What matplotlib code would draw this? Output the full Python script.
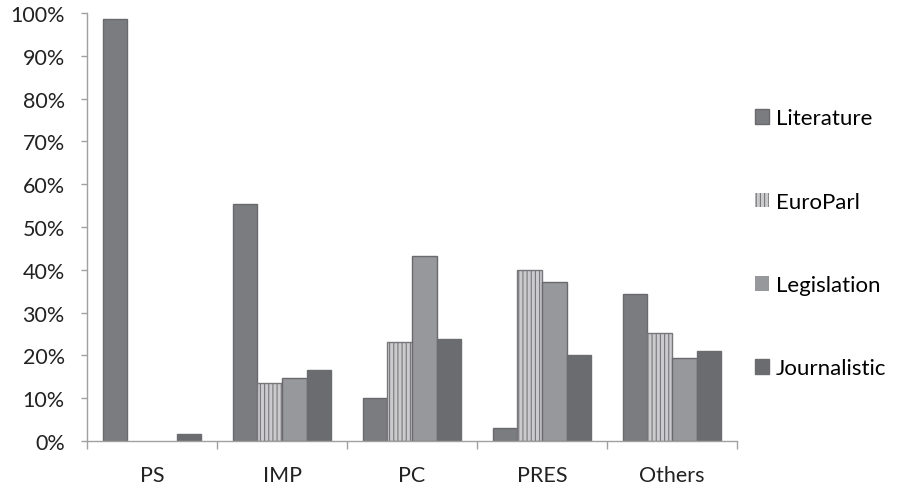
import matplotlib.pyplot as plt
import numpy as np

plt.rcParams['font.family'] = ['Lato', 'DejaVu Sans']
plt.rcParams['hatch.linewidth'] = 0.8

# Share of each category per corpus (%)
categories = ['PS', 'IMP', 'PC', 'PRES', 'Others']
literature = [98.6, 55.4, 10.0, 3.0, 34.3]
europarl = [0.0, 13.6, 23.1, 40.0, 25.2]
legislation = [0.0, 14.7, 43.2, 37.1, 19.4]
journalistic = [1.6, 16.6, 23.8, 20.1, 21.0]

fig = plt.figure(figsize=(8.98, 4.89), dpi=100)
ax = fig.add_axes([0.0969, 0.0961, 0.7238, 0.8753])


def lw(vals):
    # no outline on empty bars, so they don't darken the baseline
    return [1 if v > 0 else 0 for v in vals]


x = np.arange(len(categories))
w = 0.19
edge = '#6a6a6e'
ax.bar(x - 1.5 * w, literature, w, color='#7b7c80', edgecolor=edge, linewidth=lw(literature), label='Literature')
ax.bar(x - 0.5 * w, europarl, w, color='#cbcbcd', edgecolor='#77777b', linewidth=lw(europarl),
       hatch='||||', label='EuroParl')
ax.bar(x + 0.5 * w, legislation, w, color='#97989c', edgecolor=edge, linewidth=lw(legislation), label='Legislation')
ax.bar(x + 1.5 * w, journalistic, w, color='#6b6c70', edgecolor='#6b6c70', linewidth=lw(journalistic),
       label='Journalistic')

ax.set_xlim(-0.5, len(categories) - 0.5)
ax.set_ylim(0, 100)
ax.set_yticks(np.arange(0, 101, 10))
ax.set_yticklabels([f'{v}%' for v in range(0, 101, 10)])

# category labels centred, tick marks on the boundaries
ax.set_xticks(np.arange(-0.5, len(categories), 1.0))
ax.set_xticklabels([])
ax.set_xticks(x, minor=True)
ax.set_xticklabels(categories, minor=True)
ax.tick_params(axis='x', which='minor', length=0, pad=17)
ax.tick_params(axis='x', which='major', length=6, color='#a0a0a0', width=1)
ax.tick_params(axis='y', length=4, color='#a0a0a0', width=1, pad=12)
ax.tick_params(which='both', labelsize=15.5, labelcolor='#222222')

for s in ['top', 'right']:
    ax.spines[s].set_visible(False)
for s in ['left', 'bottom']:
    ax.spines[s].set_color('#a0a0a0')
    ax.spines[s].set_linewidth(1)

ax.legend(loc='upper left', bbox_to_anchor=(0.828, 0.799), bbox_transform=fig.transFigure,
          frameon=False, fontsize=16, handlelength=0.63, handleheight=0.63,
          handletextpad=0.32, labelspacing=2.85, borderpad=0)

fig.savefig('out.png', dpi=100)
